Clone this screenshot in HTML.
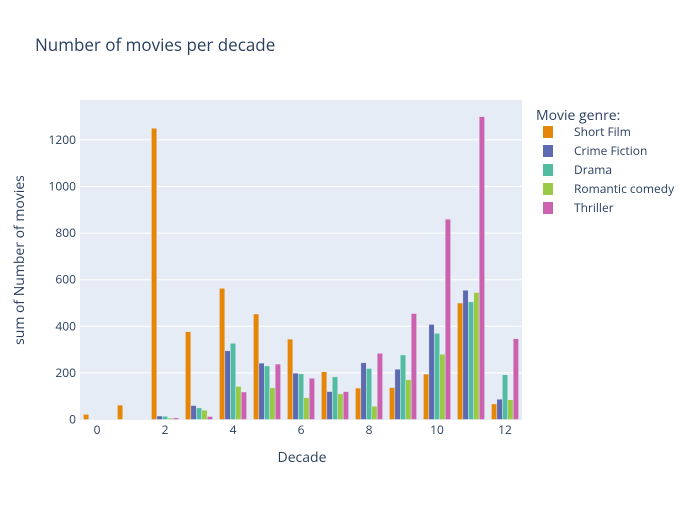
<!DOCTYPE html>
<html><head><meta charset="utf-8"><style>
body{margin:0;background:#fff;font-family:"Open Sans","Liberation Sans",sans-serif;}
text{font-family:"Open Sans","Liberation Sans",sans-serif;}
</style></head><body>
<svg id="chart" width="700" height="500" xmlns="http://www.w3.org/2000/svg">
<rect width="700" height="500" fill="#fff"/>
<rect x="80" y="100" width="442" height="320" fill="#E5ECF6"/>
<g id="grid"></g>
<g id="bars"></g>
<g id="axes"></g>
<text x="35" y="51" font-size="17" fill="#2a3f5f">Number of movies per decade</text>
<text x="302" y="462" font-size="14" fill="#2a3f5f" text-anchor="middle">Decade</text>
<text transform="translate(24,260) rotate(-90)" font-size="14" fill="#2a3f5f" text-anchor="middle">sum of Number of movies</text>
<g id="legend"><text x="536" y="120" font-size="14" fill="#2a3f5f">Movie genre:</text></g>
</svg>
<script>
const decades=[0,1,2,3,4,5,6,7,8,9,10,11,12];
const genres=["Short Film","Crime Fiction","Drama","Romantic comedy","Thriller"];
const colors=["#E58606","#5D69B1","#52BCA3","#99C945","#CC61B0"];
const shortFilm=[22,62,1250,377,563,453,345,205,135,137,195,500,67];
const crimeFiction=[0,2,15,60,295,242,199,120,244,216,408,555,87];
const drama=[0,0,14,50,327,230,196,183,219,277,370,505,192];
const romanticComedy=[0,0,6,40,142,136,94,110,57,171,280,545,85];
const thriller=[0,0,7,13,118,238,177,120,284,455,860,1300,347];
const yTicks=[0,200,400,600,800,1000,1200];
const xTicks=[0,2,4,6,8,10,12];
const series=[shortFilm,crimeFiction,drama,romanticComedy,thriller];
const NS="http://www.w3.org/2000/svg";
const x0=80,x1=522,y0=419.5,yPerUnit=46.6/200;
const step=(x1-x0)/decades.length;
const xs=d=>x0+step*(d-decades[0]+0.5);
const ys=v=>y0-v*yPerUnit;
function mk(tag,attrs,parent){const e=document.createElementNS(NS,tag);for(const k in attrs)e.setAttribute(k,attrs[k]);parent.appendChild(e);return e;}
const grid=document.getElementById('grid'),bars=document.getElementById('bars'),axes=document.getElementById('axes'),legend=document.getElementById('legend');
yTicks.forEach(t=>{
 if(t>0){const l=mk('line',{x1:x0,x2:x1,y1:ys(t),y2:ys(t),stroke:'#fff','stroke-width':1},grid);
 
 }
 const tx=mk('text',{x:x0-4,y:ys(t)+4,'font-size':12,fill:'#2a3f5f','text-anchor':'end'},axes);tx.textContent=t;
 
 
});
xTicks.forEach(t=>{
 const tx=mk('text',{x:xs(t),y:434,'font-size':12,fill:'#2a3f5f','text-anchor':'middle'},axes);tx.textContent=t;
 
 
});
const groupW=step*0.8,bw=groupW/genres.length;
series.forEach((s,gi)=>{
 s.forEach((v,i)=>{
  const x=xs(decades[i])-groupW/2+gi*bw;
  const r=mk('rect',{x:x,y:ys(v),width:bw,height:Math.max(0,y0-ys(v)),fill:colors[gi],stroke:'#E5ECF6','stroke-width':0.5},bars);
  
  
 });
 const y=132+gi*19;
 const sw=mk('rect',{x:543,y:y-6,width:10,height:12,fill:colors[gi]},legend);
 
 
 const t=mk('text',{x:574,y:y+4,'font-size':12,fill:'#2a3f5f'},legend);t.textContent=genres[gi];
 
 
});
</script>
</body></html>
